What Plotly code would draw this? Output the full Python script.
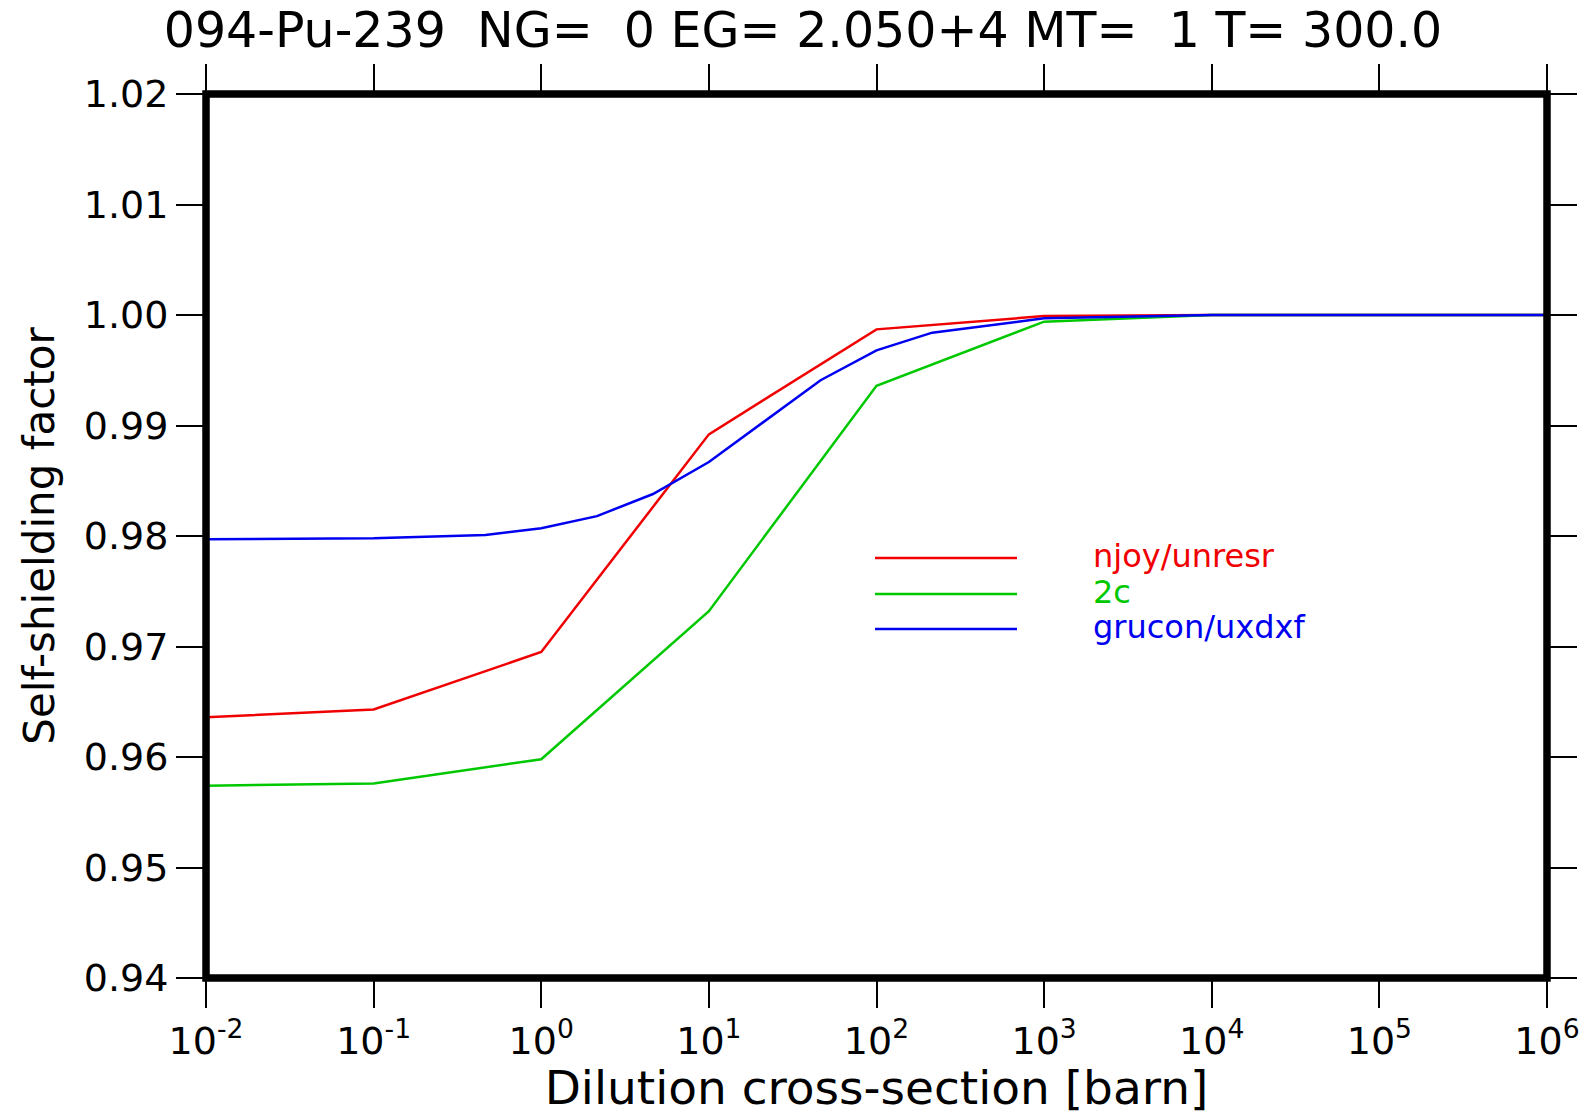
import plotly.graph_objects as go

# Dilution cross-sections [barn] and self-shielding factors
sigma0_coarse = [1e-2, 1e-1, 1e0, 1e1, 1e2, 1e3, 1e4, 1e6]
f_njoy = [0.9636, 0.9643, 0.9695, 0.9892, 0.9987, 0.9999, 1.0000, 1.0000]
f_2c = [0.9574, 0.9576, 0.9598, 0.9732, 0.9936, 0.9994, 1.0000, 1.0000]

sigma0_fine = [1e-2, 1e-1, 0.464, 1e0, 2.15, 4.64, 1e1, 46.4, 1e2, 215.0, 1e3, 1e4, 1e6]
f_grucon = [0.9797, 0.9798, 0.9801, 0.9807, 0.9818, 0.9838, 0.9867, 0.9941,
            0.9968, 0.9984, 0.9997, 1.0000, 1.0000]

series_names = ["njoy/unresr", "2c", "grucon/uxdxf"]
series_colors = ["#f00000", "#00c800", "#0000f0"]

x_tick_vals = [1e-2, 1e-1, 1e0, 1e1, 1e2, 1e3, 1e4, 1e5, 1e6]
x_tick_text = ["10<sup>-2</sup>", "10<sup>-1</sup>", "10<sup>0</sup>", "10<sup>1</sup>",
               "10<sup>2</sup>", "10<sup>3</sup>", "10<sup>4</sup>", "10<sup>5</sup>",
               "10<sup>6</sup>"]
y_tick_vals = [0.94, 0.95, 0.96, 0.97, 0.98, 0.99, 1.00, 1.01, 1.02]
y_tick_text = ["0.94", "0.95", "0.96", "0.97", "0.98", "0.99", "1.00", "1.01", "1.02"]

FONT = "DejaVu Sans"
W, H = 1591, 1115
L, R, T, B = 206, 44, 94, 137

fig = go.Figure()
xs = [sigma0_coarse, sigma0_coarse, sigma0_fine]
ys = [f_njoy, f_2c, f_grucon]
for name, color, x, y in zip(series_names, series_colors, xs, ys):
    fig.add_trace(go.Scatter(x=x, y=y, mode="lines", name=name,
                             line=dict(color=color, width=2.5), showlegend=False))

# Heavy frame centred on the plot-area edges
fig.add_shape(type="rect", xref="paper", yref="paper", x0=0, x1=1, y0=0, y1=1,
              line=dict(color="black", width=7.5), layer="above")

# Hand-drawn legend: long sample lines with coloured labels
pw, ph = W - L - R, H - T - B
def px_x(p):
    return (p - L) / pw
def px_y(p):
    return (H - B - p) / ph

legend_rows = [558, 594, 629]
for name, color, row in zip(series_names, series_colors, legend_rows):
    fig.add_shape(type="line", xref="paper", yref="paper",
                  x0=px_x(875), x1=px_x(1017), y0=px_y(row), y1=px_y(row),
                  line=dict(color=color, width=2.5))
    fig.add_annotation(xref="paper", yref="paper", x=px_x(1091), y=px_y(row - 2),
                       xanchor="left", yanchor="middle", showarrow=False,
                       text=name, font=dict(family=FONT, size=32, color=color))

axis_common = dict(showline=False, mirror="allticks",
                   ticks="outside", ticklen=29, tickwidth=2, tickcolor="black",
                   showgrid=False, zeroline=False,
                   tickfont=dict(family=FONT, size=38, color="black"))

fig.update_layout(
    width=W, height=H,
    margin=dict(l=L, r=R, t=T, b=B),
    paper_bgcolor="white", plot_bgcolor="white",
    title=dict(text="094-Pu-239\u00a0\u00a0NG=\u00a0\u00a00\u00a0EG=\u00a02.050+4\u00a0MT=\u00a0\u00a01\u00a0T=\u00a0300.0",
               x=803 / W, xanchor="center", y=1 - 30 / H, yanchor="middle",
               font=dict(family=FONT, size=49, color="black")),
    xaxis=dict(type="log", range=[-2, 6], tickvals=x_tick_vals, ticktext=x_tick_text,
               title=dict(text="Dilution cross-section [barn]",
                          font=dict(family=FONT, size=47, color="black"), standoff=4),
               **axis_common),
    yaxis=dict(range=[0.94, 1.02], tickvals=y_tick_vals, ticktext=y_tick_text,
               title=dict(text="Self-shielding factor",
                          font=dict(family=FONT, size=42, color="black"), standoff=16),
               **axis_common),
)

fig.write_html("out.html")
